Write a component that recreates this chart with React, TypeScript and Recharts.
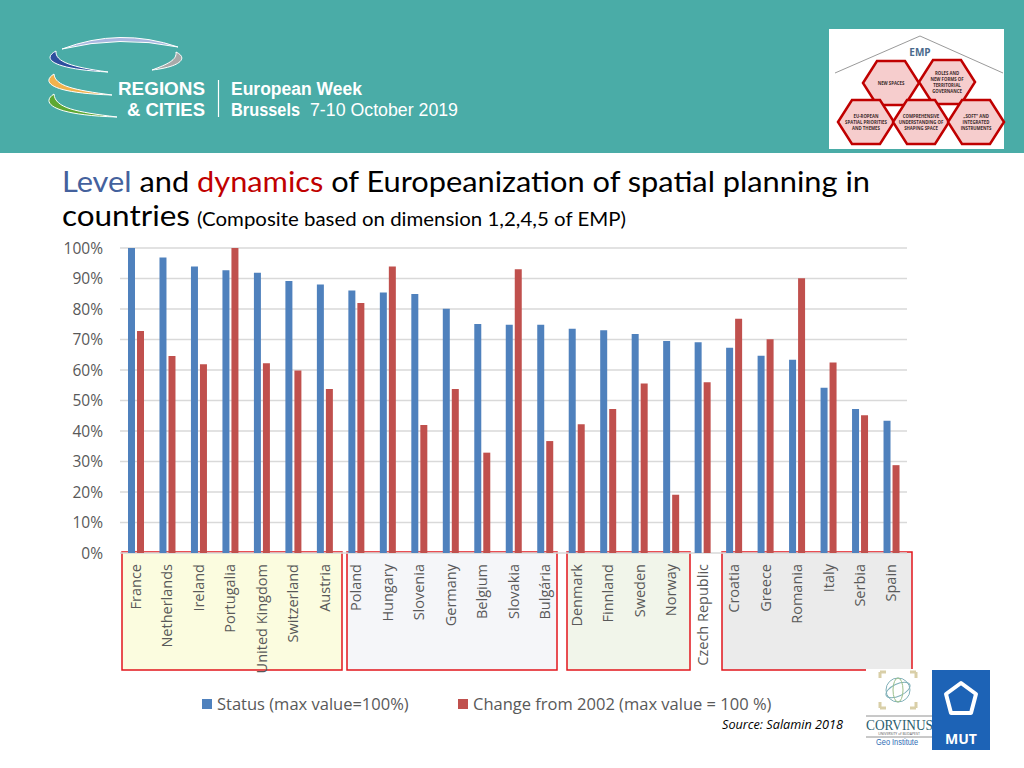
import React from "react";
import { BarChart, Bar, XAxis, YAxis, CartesianGrid, Legend } from "recharts";

const categories = [
  "France", "Netherlands", "Ireland", "Portugalia", "United Kingdom", "Switzerland", "Austria",
  "Poland", "Hungary", "Slovenia", "Germany", "Belgium", "Slovakia", "Bulgária",
  "Denmark", "Finnland", "Sweden", "Norway", "Czech Republic",
  "Croatia", "Greece", "Romania", "Italy", "Serbia", "Spain",
];
const statusValues = [
  100, 96.9, 93.9, 92.7, 91.9, 89.2, 88.0,
  86.1, 85.4, 84.9, 80.1, 75.1, 74.8, 74.8,
  73.5, 73.0, 71.8, 69.5, 69.1,
  67.3, 64.7, 63.4, 54.2, 47.2, 43.4,
];
const changeValues = [
  72.8, 64.6, 61.9, 100, 62.2, 59.8, 53.8,
  82.0, 93.9, 42.0, 53.8, 32.9, 93.0, 36.7,
  42.2, 47.2, 55.6, 19.1, 56.0,
  76.8, 70.1, 90.1, 62.5, 45.2, 28.8,
];
const yTicks = [0, 10, 20, 30, 40, 50, 60, 70, 80, 90, 100];
const seriesNames = ["Status (max value=100%)", "Change from 2002 (max value = 100 %)"];

const data = categories.map((c, i) => ({
  country: c,
  status: statusValues[i],
  change: changeValues[i],
}));

const BLUE = "#4f81bd";
const RED = "#c0504d";
const GRAY_TXT = "#595959";
const FONT = "'Open Sans', sans-serif";
const HEAD_FONT = "'Liberation Sans', Arial, sans-serif";

const XTick = (props: any) => {
  const { x, y, payload } = props;
  return (
    <text
      x={x}
      y={y}
      transform={`rotate(-90 ${x} ${y})`}
      textAnchor="end"
      dy="0.36em"
      fill={GRAY_TXT}
      fontSize={14.5}
      fontFamily={FONT}
    >
      {payload.value}
    </text>
  );
};

const legendLeft: Record<string, number> = { status: 202, change: 458 };

const LegendContent = (props: any) => {
  const payload = props.payload || [];
  return (
    <div style={{ position: "relative", width: 1024, height: 24 }}>
      {payload.map((p: any, i: number) => (
        <div
          key={i}
          style={{
            position: "absolute",
            left: legendLeft[String(p.dataKey)] ?? 202 + i * 256,
            top: 0,
            height: 24,
            display: "flex",
            alignItems: "center",
            whiteSpace: "nowrap",
          }}
        >
          <span style={{ display: "inline-block", width: 10, height: 10, background: p.color, marginRight: 5 }} />
          <span style={{ fontFamily: FONT, fontSize: 16.5, color: GRAY_TXT, lineHeight: "24px" }}>{p.value}</span>
        </div>
      ))}
    </div>
  );
};

const hexPoints = (cx: number, cy: number, w: number, h: number) => {
  const hw = w / 2, hh = h / 2, q = w / 4;
  return [
    [cx - hw, cy], [cx - q, cy - hh], [cx + q, cy - hh],
    [cx + hw, cy], [cx + q, cy + hh], [cx - q, cy + hh],
  ].map((p) => p.join(",")).join(" ");
};

const hexes = [
  { cx: 891, cy: 83, lines: ["NEW SPACES"] },
  { cx: 947, cy: 82, lines: ["ROLES AND", "NEW FORMS OF", "TERRITORIAL", "GOVERNANCE"] },
  { cx: 866, cy: 122, lines: ["EU-ROPEAN", "SPATIAL PRIORITIES", "AND THEMES"] },
  { cx: 921, cy: 122, lines: ["COMPREHENSIVE", "UNDERSTANDING OF", "SHAPING SPACE"] },
  { cx: 976, cy: 122, lines: ["„SOFT\" AND", "INTEGRATED", "INSTRUMENTS"] },
];

const groupBoxes = [
  { x: 122, w: 220, fill: "#fbfcdf" },
  { x: 347, w: 210, fill: "#f5f6f9" },
  { x: 567, w: 123, fill: "#f1f5ea" },
  { x: 722, w: 190, fill: "#ebebeb" },
];

export default function App() {
  return (
    <div style={{ position: "absolute", left: 0, top: 0, width: 1024, height: 768, background: "#fff", overflow: "hidden" }}>
      {/* background layer */}
      <svg width={1024} height={768} style={{ position: "absolute", left: 0, top: 0 }}>
        <rect x={0} y={0} width={1024} height={153} fill="#4aaca7" />
        {/* logo arcs */}
        <path d="M62,49 Q120,27 178,47 Q120,35 62,49 Z" fill="#a9b7e0" stroke="#fff" strokeWidth={1} />
        <path d="M56,51 C42,58 50,69 108,72 C72,67 55,62 56,51 Z" fill="#2d4f9e" stroke="#fff" strokeWidth={1} />
        <path d="M176,52 C189,58 180,67 152,70 C168,64 177,60 176,52 Z" fill="#a9a9a9" stroke="#fff" strokeWidth={1} />
        <path d="M54,74 C41,82 50,93 112,95 C74,90 55,86 54,74 Z" fill="#f2b24c" stroke="#fff" strokeWidth={1} />
        <path d="M54,94 C41,102 50,115 117,117 C76,112 55,108 54,94 Z" fill="#5da832" stroke="#fff" strokeWidth={1} />
        <text x={118} y={95} fill="#fff" fontFamily={HEAD_FONT} fontWeight={700} fontSize={18} textLength={87} lengthAdjust="spacingAndGlyphs">REGIONS</text>
        <text x={127} y={115.5} fill="#fff" fontFamily={HEAD_FONT} fontWeight={700} fontSize={18} textLength={78} lengthAdjust="spacingAndGlyphs">&amp; CITIES</text>
        <line x1={218.5} y1={80} x2={218.5} y2={117} stroke="#fff" strokeWidth={1.2} />
        <text x={231} y={94.5} fill="#fff" fontFamily={HEAD_FONT} fontWeight={700} fontSize={18} textLength={131} lengthAdjust="spacingAndGlyphs">European Week</text>
        <text x={231} y={115.5} fill="#fff" fontFamily={HEAD_FONT} fontWeight={700} fontSize={18} textLength={69} lengthAdjust="spacingAndGlyphs">Brussels</text>
        <text x={310} y={115.5} fill="#fff" fontFamily={HEAD_FONT} fontSize={18} textLength={148} lengthAdjust="spacingAndGlyphs">7-10 October 2019</text>

        {/* EMP picture */}
        <rect x={829} y={29} width={175} height={120} fill="#fff" />
        <polyline points="835,73 920,36 1003,73" fill="none" stroke="#9a9a9a" strokeWidth={1} />
        <text x={920} y={56} textAnchor="middle" fill="#4a6a8c" fontFamily={FONT} fontWeight={700} fontSize={10}>EMP</text>
        {hexes.map((h, i) => (
          <g key={i}>
            <polygon points={hexPoints(h.cx, h.cy, 56, 44)} fill="#f6cdcd" stroke="#c00000" strokeWidth={2.5} />
            {h.lines.map((l, j) => (
              <text
                key={j}
                x={h.cx}
                y={h.cy - (h.lines.length - 1) * 3 + j * 6 + 2}
                textAnchor="middle"
                fill="#3a2a2a"
                fontFamily={FONT}
                fontWeight={700}
                fontSize={4.3}
              >
                {l}
              </text>
            ))}
          </g>
        ))}

        {/* title */}
        <text x={62} y={192} fontFamily="Lato, sans-serif" fontSize={29} fill="#000" textLength={808} lengthAdjust="spacingAndGlyphs">
          <tspan fill="#44619d">Level</tspan>
          <tspan>{" and "}</tspan>
          <tspan fill="#c00000">dynamics</tspan>
          <tspan>{" of Europeanization of spatial planning in"}</tspan>
        </text>
        <text x={62} y={226} fontFamily="Lato, sans-serif" fontSize={29} fill="#000" textLength={128} lengthAdjust="spacingAndGlyphs">countries</text>
        <text x={197} y={226} fontFamily="Lato, sans-serif" fontSize={19.5} fill="#000" textLength={429} lengthAdjust="spacingAndGlyphs">(Composite based on dimension 1,2,4,5 of EMP)</text>

        {/* group boxes */}
        {groupBoxes.map((b, i) => (
          <rect key={i} x={b.x} y={552} width={b.w} height={118} fill={b.fill} stroke="#e2161c" strokeWidth={1.5} />
        ))}
      </svg>

      {/* chart layer */}
      <div style={{ position: "absolute", left: 0, top: 0 }}>
        <BarChart
          width={1024}
          height={768}
          data={data}
          margin={{ top: 248, right: 117, bottom: 95, left: 60 }}
          barGap={2}
          barSize={7}
        >
          <CartesianGrid vertical={false} stroke="#d9d9d9" strokeWidth={1.5} />
          <XAxis
            dataKey="country"
            interval={0}
            axisLine={false}
            tickLine={false}
            tickSize={0}
            tickMargin={11}
            height={120}
            tick={<XTick />}
          />
          <YAxis
            domain={[0, 100]}
            ticks={yTicks}
            width={60}
            axisLine={false}
            tickLine={false}
            tickSize={0}
            tickMargin={17}
            tickFormatter={(v: number) => `${v}%`}
            tick={{ fill: GRAY_TXT, fontSize: 15.5, fontFamily: FONT }}
          />
          <Legend
            layout="vertical"
            verticalAlign="middle"
            align="center"
            content={<LegendContent />}
            wrapperStyle={{ position: "absolute", left: 0, top: 692, width: 1024, height: 24 }}
          />
          <Bar dataKey="status" name={seriesNames[0]} fill={BLUE} isAnimationActive={false} />
          <Bar dataKey="change" name={seriesNames[1]} fill={RED} isAnimationActive={false} />
        </BarChart>
      </div>

      {/* foreground: source & logos */}
      <svg width={1024} height={768} style={{ position: "absolute", left: 0, top: 0, pointerEvents: "none" }}>
        <text x={722} y={728.5} fontFamily={FONT} fontStyle="italic" fontSize={12.5} fill="#000" textLength={121} lengthAdjust="spacingAndGlyphs">Source: Salamin 2018</text>
        <rect x={866} y={669} width={66} height={86} fill="#fff" />
        <path d="M880,672 h6 M880,672 v6 M916,672 h-6 M916,672 v6 M880,708 h6 M880,708 v-6 M916,708 h-6 M916,708 v-6" stroke="#d9cfa8" strokeWidth={3} />
        <ellipse cx={898} cy={690} rx={12} ry={12} fill="none" stroke="#7fb0b8" strokeWidth={1} />
        <ellipse cx={898} cy={690} rx={13} ry={6} fill="none" stroke="#7fb0b8" strokeWidth={1} transform="rotate(-25 898 690)" />
        <ellipse cx={898} cy={690} rx={5} ry={12} fill="none" stroke="#9cc08a" strokeWidth={1} />
        <line x1={866} y1={716} x2={932} y2={716} stroke="#777" strokeWidth={0.8} />
        <text x={866} y={730} fontFamily="'Liberation Serif', serif" fontSize={14} fill="#2b5d6e" textLength={67} lengthAdjust="spacingAndGlyphs">CORVINUS</text>
        <text x={899} y={735} textAnchor="middle" fontFamily={FONT} fontSize={3.5} fill="#555">UNIVERSITY of BUDAPEST</text>
        <line x1={866} y1={737} x2={932} y2={737} stroke="#777" strokeWidth={0.8} />
        <text x={876} y={745} fontFamily="'Liberation Sans', sans-serif" fontSize={9} fill="#2e6db4" textLength={42} lengthAdjust="spacingAndGlyphs">Geo Institute</text>
        <rect x={932} y={670} width={58} height={80} fill="#1d63b6" />
        <path d="M961,683 L976,694 L971,713 L951,713 L946,694 Z" fill="none" stroke="#fff" strokeWidth={4} strokeLinejoin="round" />
        <text x={961} y={744} textAnchor="middle" fontFamily={FONT} fontWeight={700} fontSize={14} fill="#fff">MUT</text>
      </svg>
    </div>
  );
}
